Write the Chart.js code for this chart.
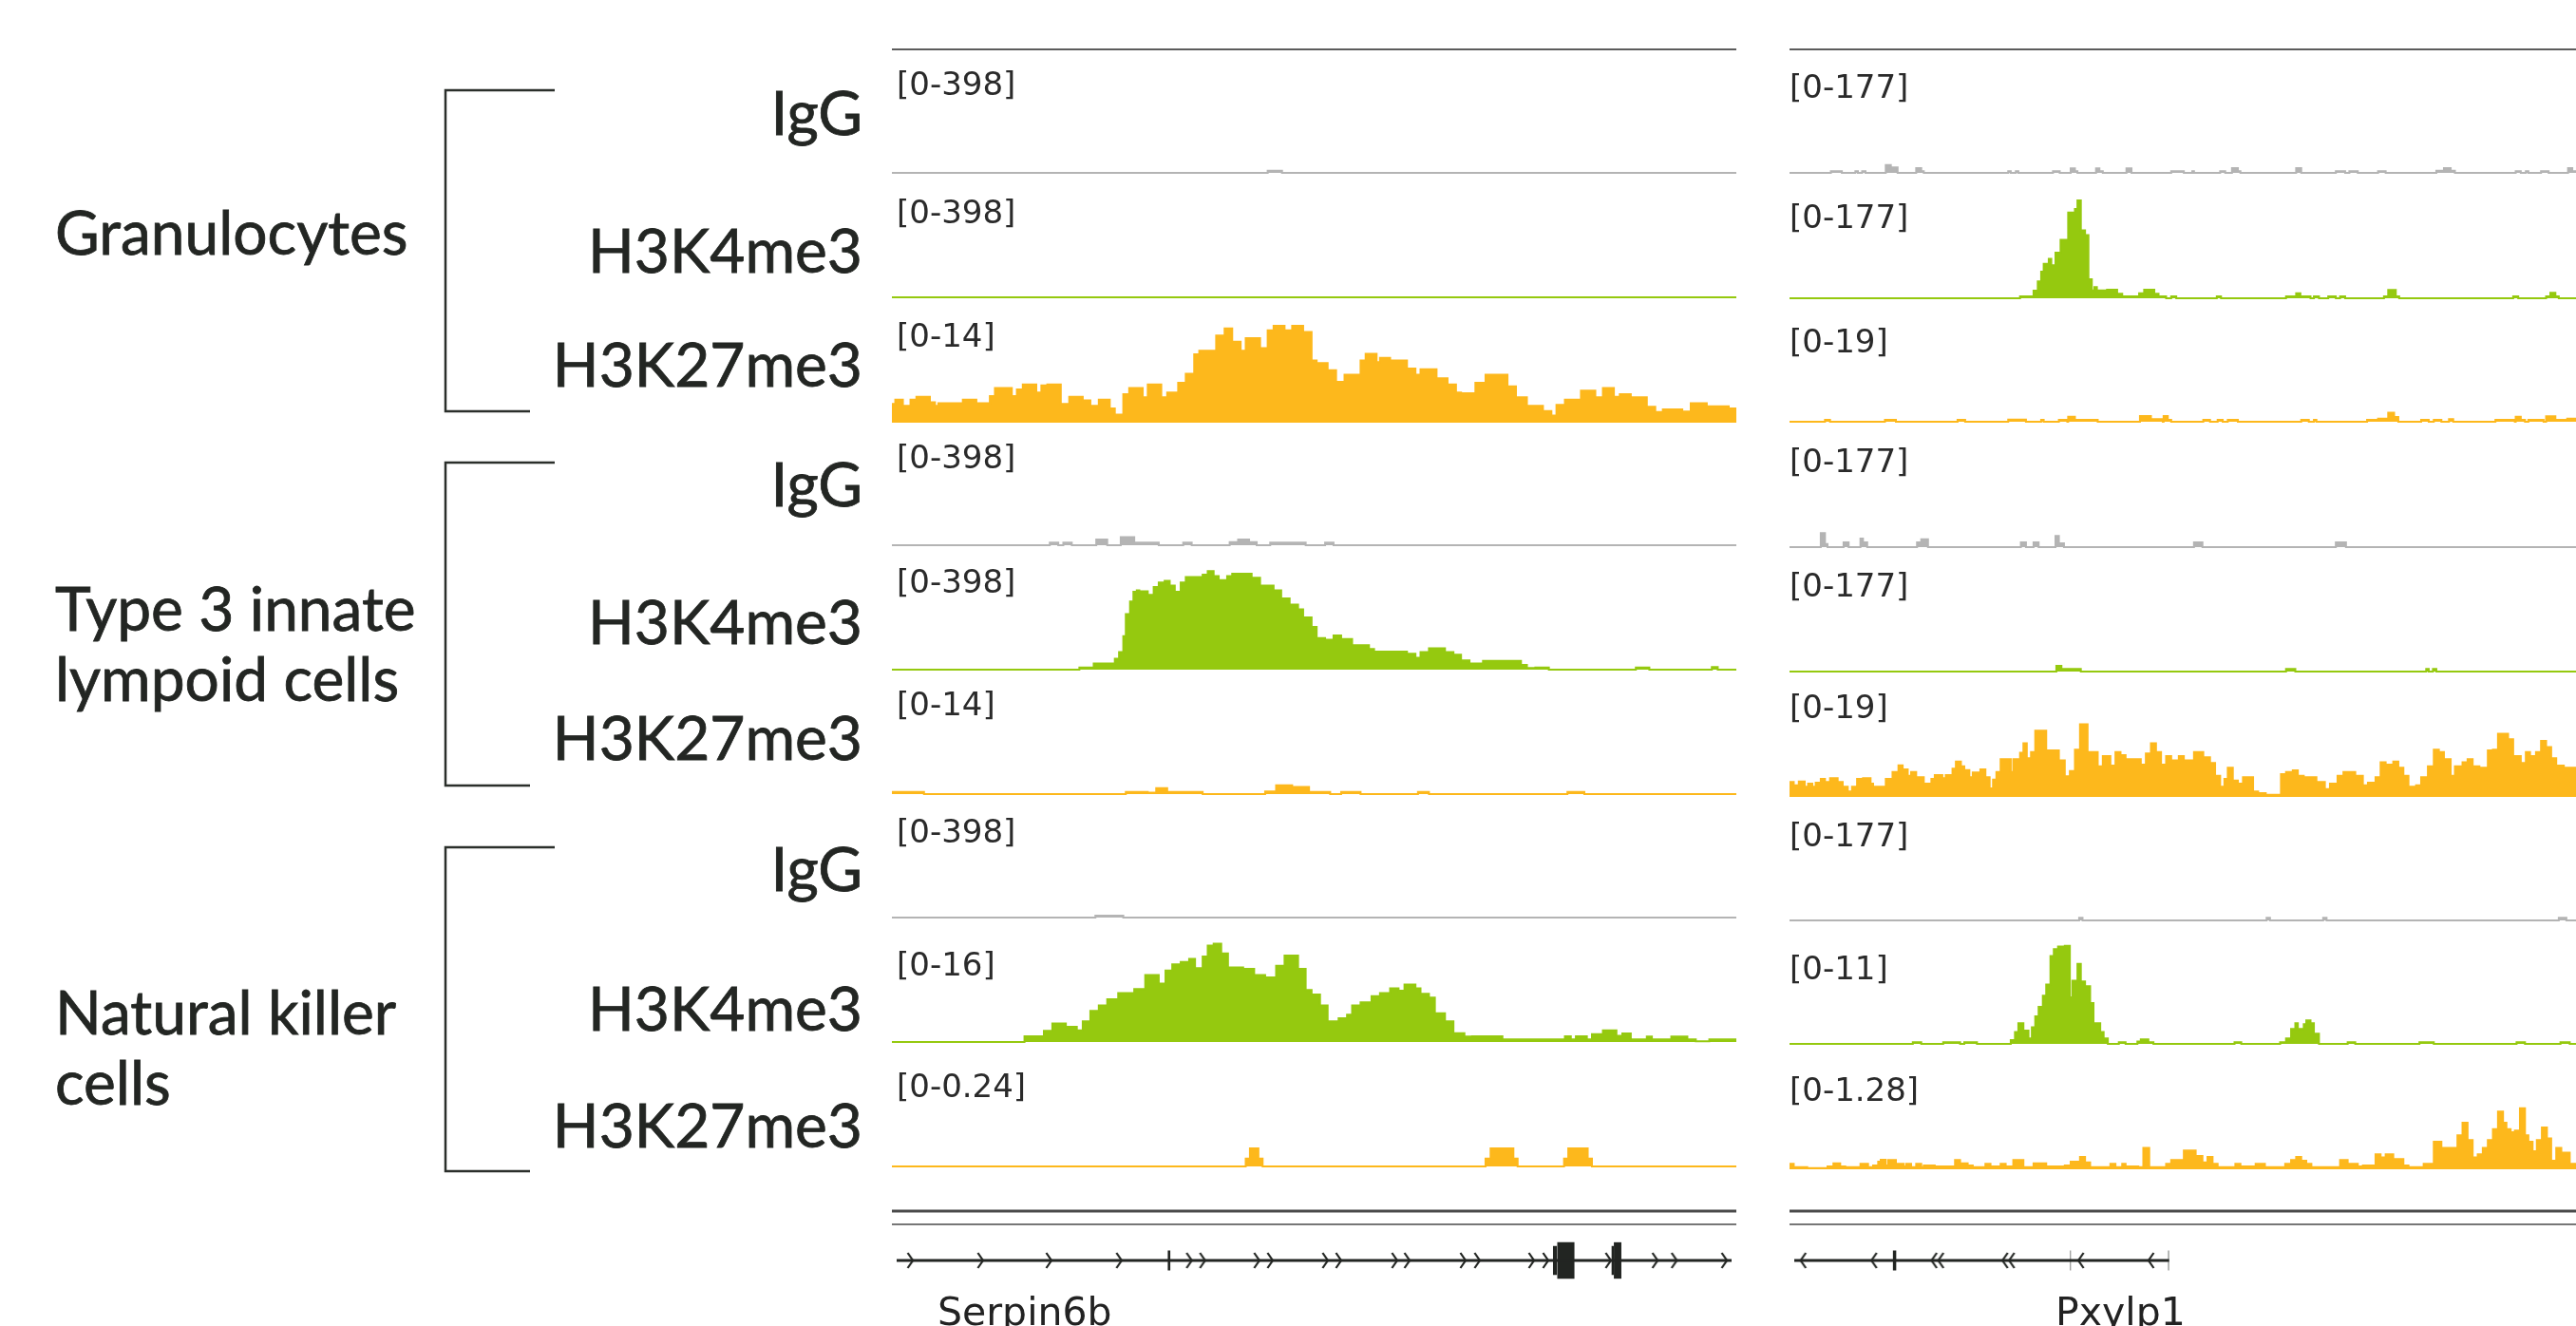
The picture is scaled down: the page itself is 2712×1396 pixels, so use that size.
<!DOCTYPE html>
<html>
<head>
<meta charset="utf-8">
<script src="https://cdn.jsdelivr.net/npm/chart.js@4.4.1/dist/chart.umd.min.js"></script>
<style>
  html, body { margin: 0; padding: 0; background: #fff; }
  body { width: 2712px; height: 1396px; overflow: hidden; position: relative; }
  canvas.trk { position: absolute; }
  #ov { position: absolute; left: 0; top: 0; }
</style>
</head>
<body>
<svg id="ov" width="2712" height="1396" xmlns="http://www.w3.org/2000/svg"></svg>
<script>
// ---- signal tracks: [position, value] steps; each value holds until the next position ----
// Serpin6b locus (window 0-1000)
const iggGranL = [[0,0],[445,7],[462,0],[1000,0]];
const k4GranL = [[0,0],[1000,0]];
const k27GranL = [[0,2.1],[4,2.6],[13,1.9],[22,2.6],[29,2.9],[45,2.3],[51,1.9],[55,2.2],[84,2.6],[100,2.2],[116,3.0],[122,3.9],[142,3.0],[148,3.75],[155,4.3],[171,3.4],[177,4.2],[184,4.3],[200,2.1],[210,2.9],[226,2.5],[235,1.9],[245,2.6],[258,1.6],[264,0.9],[274,3.2],[281,3.9],[297,2.85],[303,4.3],[319,2.85],[326,3.4],[339,4.5],[348,5.5],[358,7.7],[364,8.1],[384,9.8],[394,10.6],[403,9.1],[413,8.1],[419,9.5],[436,8.4],[445,10.4],[452,10.9],[465,10.4],[474,10.9],[487,10.2],[497,7.0],[503,6.7],[516,5.9],[526,4.6],[536,5.4],[555,7.0],[561,7.75],[574,6.8],[578,7.3],[590,7.0],[610,6.1],[620,5.4],[626,6.0],[645,5.0],[658,4.3],[668,3.4],[674,3.3],[691,4.5],[703,5.4],[729,4.1],[739,2.85],[752,1.9],[771,1.3],[781,0.8],[787,2.0],[797,2.6],[816,3.6],[833,2.85],[842,3.9],[855,2.9],[862,3.2],[875,2.85],[894,1.8],[904,1.2],[913,1.5],[936,1.25],[946,2.2],[965,1.85],[991,1.6],[1000,1.6]];
const iggIlcL = [[0,0],[187,8],[197,0],[203,8],[213,0],[242,18],[255,0],[271,26],[287,8],[316,0],[345,8],[355,0],[400,10],[410,18],[423,10],[432,0],[448,8],[490,0],[513,8],[523,0],[1000,0]];
const k4IlcL = [[0,0],[222,7],[239,20],[264,35],[269,56],[274,107],[277,178],[282,218],[286,249],[290,254],[293,251],[303,239],[310,264],[316,279],[323,284],[329,269],[335,249],[342,279],[348,296],[368,304],[374,315],[381,299],[387,286],[397,299],[403,307],[426,294],[436,269],[452,254],[461,228],[471,208],[481,193],[487,167],[497,137],[503,101],[513,96],[523,109],[532,98],[545,78],[565,66],[571,58],[610,51],[620,38],[626,56],[636,68],[655,56],[665,48],[674,30],[684,20],[700,28],[745,15],[752,5],[762,7],[778,0],[881,7],[897,0],[971,8],[978,0],[1000,0]];
const k27IlcL = [[0,0.25],[38,0],[277,0.25],[303,0.15],[313,0.68],[326,0.25],[368,0],[442,0.3],[455,1.0],[474,0.8],[494,0.25],[519,0],[532,0.25],[555,0],[623,0.25],[636,0],[800,0.25],[820,0],[1000,0]];
const iggNkL = [[0,0],[241,6],[274,0],[1000,0]];
const k4NkL = [[0,0],[157,0.73],[180,1.43],[190,2.37],[206,1.96],[219,1.5],[226,2.65],[235,4.0],[245,4.7],[255,5.5],[268,6.3],[287,6.8],[300,8.6],[316,7.5],[324,9.2],[332,10.0],[342,10.3],[352,10.7],[359,9.5],[368,11.0],[374,12.4],[381,12.65],[390,11.4],[398,9.6],[416,9.4],[429,8.6],[442,8.3],[455,9.8],[465,11.1],[481,9.4],[490,6.7],[497,6.1],[507,4.7],[516,2.65],[529,3.06],[539,3.5],[545,4.7],[555,5.1],[568,5.9],[578,6.3],[590,6.9],[600,6.6],[607,7.4],[620,6.9],[626,6.2],[636,5.7],[643,3.7],[655,2.65],[665,1.14],[678,0.7],[687,0.73],[723,0.33],[797,0.73],[804,0.33],[810,0.73],[823,0.33],[829,1.0],[842,1.5],[858,0.8],[865,1.1],[875,0.33],[894,0.7],[900,0.33],[923,0.7],[942,0.33],[952,0.1],[968,0.33],[1000,0.33]];
const k27NkL = [[0,0],[419,0.015],[424,0.035],[434,0.015],[439,0],[703,0.015],[709,0.035],[736,0.015],[741,0],[796,0.015],[801,0.035],[824,0.015],[829,0],[1000,0]];

// Pxylp1 locus (visible window 0-931)
const iggGranR = [[0,0],[49,2.3],[62,0],[78,2.3],[81,0],[86,2.3],[90,0],[114,11],[120,7.7],[128,0],[150,6.8],[156,2.3],[159,0],[259,2.3],[262,0],[268,2.3],[271,0],[312,2.3],[320,0],[333,6.3],[338,2.3],[341,0],[363,6.3],[367,2.3],[371,0],[399,6.3],[405,0],[452,2.3],[467,0],[477,2.3],[479,0],[510,2.3],[516,0],[524,6.8],[531,2.3],[534,0],[600,6.8],[606,0],[647,2.3],[658,0],[663,2.3],[673,0],[697,2.3],[706,0],[766,3.2],[775,6.8],[783,3.2],[788,0],[860,2.3],[866,0],[872,2.3],[875,0],[890,2.3],[899,0],[922,6.8],[927,2.3],[932,2.3]];
const k4GranR = [[0,0],[273,2.7],[289,10.8],[294,24],[298,38],[301,49],[307,56],[310,47],[315,65],[321,83],[330,122],[338,127],[341,139],[345,96.5],[350,90],[354,27],[358,11],[361,16],[364,11],[376,12],[388,6.3],[394,2.7],[414,7.2],[420,12],[432,6.3],[437,2.7],[446,0],[452,2.7],[458,0],[506,2.7],[511,0],[588,2.7],[600,7.2],[605,2.7],[617,0],[621,2.7],[627,0],[638,2.7],[647,0],[652,2.7],[658,0],[704,2.7],[709,11.7],[718,2.7],[722,0],[857,2.7],[863,0],[896,2.7],[901,7.7],[907,2.7],[911,0],[932,0]];
const k27GranR = [[0,0],[42,0.29],[48,0],[113,0.29],[126,0],[199,0.29],[208,0],[259,0.34],[280,0],[298,0.29],[301,0],[319,0.29],[329,0],[330,0.77],[338,0.29],[365,0],[415,0.87],[428,0.39],[442,0],[443,0.87],[448,0.29],[452,0],[490,0.29],[498,0],[507,0.29],[513,0],[519,0.29],[531,0],[606,0.29],[615,0],[621,0.29],[624,0],[684,0.29],[697,0.48],[709,1.36],[716,0.73],[721,0],[748,0.29],[757,0],[763,0.29],[772,0],[781,0.39],[786,0],[836,0.29],[859,0],[860,0.77],[866,0.29],[871,0],[875,0.29],[893,0],[896,0.82],[907,0.29],[921,0.48],[932,0.48]];
const iggIlcR = [[0,0],[37,20],[42,4.5],[45,0],[64,6.8],[70,0],[84,12],[87,6.8],[92,0],[151,6.8],[156,11],[164,0],[274,6.8],[280,0],[289,6.8],[295,0],[315,16],[319,5.4],[325,0],[479,6.8],[489,0],[647,6.8],[659,0],[932,0]];
const k4IlcR = [[0,0],[316,8],[322,3.6],[345,0],[588,3.6],[599,0],[754,3.6],[757,0],[762,3.6],[766,0],[932,0]];
const k27IlcR = [[0,2.27],[5,1.79],[11,2.37],[18,1.55],[22,2.03],[27,1.55],[31,2.18],[37,2.76],[42,2.27],[48,2.86],[57,2.27],[63,1.55],[69,0.82],[74,1.55],[80,2.76],[87,2.86],[96,2.03],[99,1.55],[114,2.76],[122,3.82],[129,4.84],[134,4.21],[140,3.24],[144,3.82],[150,3.0],[159,2.03],[168,2.76],[172,3.34],[181,2.86],[185,3.34],[193,4.31],[197,5.42],[203,4.69],[207,4.11],[213,3.0],[217,3.73],[226,4.21],[232,3.0],[237,1.31],[241,2.66],[245,3.82],[250,5.76],[256,5.76],[262,3.82],[265,5.76],[273,6.73],[277,8.18],[281,5.9],[286,6.87],[291,10.1],[304,7.11],[313,7.11],[319,5.57],[326,3.15],[332,3.97],[338,7.21],[344,11.08],[353,6.87],[365,4.69],[371,6.24],[380,4.79],[386,6.87],[392,6.39],[398,5.76],[416,4.94],[422,6.63],[428,8.18],[434,6.87],[440,4.94],[446,6.24],[452,5.57],[461,6.24],[467,5.57],[479,6.87],[490,6.05],[498,5.18],[504,3.24],[510,1.55],[515,2.76],[519,4.45],[525,2.52],[531,2.03],[537,3.0],[549,0.82],[555,0.58],[564,0.34],[582,3.48],[588,3.82],[596,4.07],[602,3.24],[609,3.0],[624,2.27],[634,1.21],[640,2.03],[649,3.24],[656,3.82],[670,3.24],[679,1.79],[685,2.18],[694,3.0],[700,5.28],[706,4.94],[715,5.42],[721,4.45],[727,3.24],[733,1.55],[742,1.79],[748,3.0],[756,4.69],[763,7.21],[769,6.87],[775,5.76],[783,3.24],[788,4.69],[797,5.28],[803,5.76],[809,4.69],[817,4.45],[827,7.11],[833,7.21],[839,9.63],[851,8.81],[857,6.24],[866,5.18],[872,6.87],[877,6.24],[884,6.87],[890,8.57],[896,7.6],[902,5.9],[908,4.79],[917,4.45],[932,4.45]];
const iggNkR = [[0,0],[343,3.6],[347,0],[565,3.6],[569,0],[632,3.6],[636,0],[911,3.6],[920,0],[932,0]];
const k4NkR = [[0,0],[146,0.14],[156,0],[182,0.14],[202,0],[207,0.14],[222,0],[262,0.34],[267,1.04],[271,1.82],[277,1.18],[283,0.48],[287,1.46],[291,2.44],[295,3.28],[300,4.26],[304,5.24],[309,7.77],[313,8.38],[318,8.61],[326,8.66],[332,4.12],[335,5.58],[341,7.07],[345,5.52],[350,5.1],[356,3.62],[360,1.82],[368,1.04],[372,0.48],[377,0],[390,0.14],[398,0],[412,0.2],[416,0.39],[425,0.14],[431,0],[527,0.14],[535,0],[581,0.14],[588,0.48],[594,1.32],[599,1.82],[602,1.32],[609,1.74],[612,2.07],[617,1.82],[621,0.9],[627,0],[661,0.14],[670,0],[746,0.14],[763,0],[861,0.14],[871,0],[913,0.14],[924,0],[932,0]];
const k27NkR = [[0,0.055],[5,0.023],[21,0.013],[45,0.029],[52,0.062],[60,0.029],[66,0.023],[84,0.055],[93,0.023],[99,0.039],[105,0.078],[108,0.098],[114,0.039],[117,0.095],[126,0.055],[135,0.029],[138,0.055],[144,0.023],[150,0.055],[156,0.023],[159,0.039],[172,0.029],[196,0.095],[202,0.062],[211,0.039],[217,0.023],[232,0.055],[238,0.029],[250,0.055],[256,0.029],[265,0.095],[277,0.023],[289,0.062],[304,0.029],[326,0.039],[333,0.078],[344,0.127],[350,0.072],[356,0.023],[380,0.055],[386,0.023],[394,0.055],[398,0.029],[413,0.023],[419,0.219],[426,0.023],[446,0.055],[452,0.095],[467,0.193],[481,0.137],[489,0.072],[495,0.127],[501,0.055],[507,0.023],[528,0.055],[534,0.029],[552,0.055],[563,0.023],[587,0.055],[594,0.095],[600,0.127],[606,0.088],[612,0.055],[618,0.023],[652,0.095],[661,0.055],[673,0.029],[679,0.039],[694,0.153],[700,0.121],[706,0.153],[715,0.104],[727,0.039],[733,0.023],[751,0.055],[763,0.284],[772,0.219],[791,0.349],[797,0.48],[803,0.30],[809,0.121],[815,0.153],[821,0.219],[827,0.30],[833,0.414],[839,0.594],[845,0.48],[849,0.414],[854,0.382],[859,0.398],[865,0.627],[871,0.349],[875,0.284],[880,0.186],[885,0.30],[891,0.431],[897,0.317],[902,0.088],[908,0.219],[914,0.17],[924,0.055],[932,0.055]];

// data ranges shown as [0-max]
const rangesL = [398, 398, 14, 398, 398, 14, 398, 16, 0.24];
const rangesR = [177, 177, 19, 177, 177, 19, 177, 11, 1.28];

// cell types and marks
const cellGroups = [['Granulocytes'], ['Type 3 innate', 'lympoid cells'], ['Natural killer', 'cells']];
const marks = ['IgG', 'H3K4me3', 'H3K27me3'];

// gene models: exons [start, end, relative height], strand arrows at positions
const geneSerpin = { name: 'Serpin6b', strand: 1, start: 0, end: 1000,
  exons: [[324.5, 328, 0.55], [786, 791, 0.8], [791, 812, 1], [856, 859, 0.8], [859, 868, 1]],
  arrows: [16, 100, 182, 266, 350, 366, 431, 447, 513, 529, 596, 611, 678, 695, 760, 777, 852, 908, 931, 991] };
const genePxylp = { name: 'Pxylp1', strand: -1, start: 0, end: 449.3,
  exons: [[118, 122.5, 0.55], [330.6, 331.8, 0.55], [448, 449.3, 0.55]],
  arrows: [11, 96, 168, 176, 253, 261, 344, 428] };

// ---- layout ----
const COLORS = { IgG: '#b4b4b4', H3K4me3: '#95c90f', H3K27me3: '#fdb81c' };
const INK = '#222522';
const PANEL_L = { x: 939, width: 889, xMax: 1000, baselines: [182, 313, 445, 574, 705, 836, 966, 1097, 1228],
  labelX: 944, labelBase: [100, 235, 365, 493, 624, 753, 887, 1027, 1155] };
const PANEL_R = { x: 1884, width: 828, xMax: 931.4, baselines: [182, 314, 444, 576, 707, 839, 969, 1099, 1231],
  labelX: 1884, labelBase: [103, 240, 371, 497, 628, 756, 891, 1031, 1159] };
const TRACK_H = 131;

const tracksL = [iggGranL, k4GranL, k27GranL, iggIlcL, k4IlcL, k27IlcL, iggNkL, k4NkL, k27NkL];
const tracksR = [iggGranR, k4GranR, k27GranR, iggIlcR, k4IlcR, k27IlcR, iggNkR, k4NkR, k27NkR];

const ov = document.getElementById('ov');
const SVGNS = 'http://www.w3.org/2000/svg';

function svgEl(tag, attrs, text) {
  const el = document.createElementNS(SVGNS, tag);
  for (const k in attrs) el.setAttribute(k, attrs[k]);
  if (text !== undefined) el.textContent = text;
  ov.appendChild(el);
  return el;
}

function makeCanvas(left, top, w, h) {
  const cv = document.createElement('canvas');
  cv.className = 'trk';
  cv.width = w; cv.height = h;
  cv.style.left = left + 'px'; cv.style.top = top + 'px';
  cv.style.width = w + 'px'; cv.style.height = h + 'px';
  document.body.insertBefore(cv, ov);
  return cv;
}

const baseOptions = (xMax) => ({
  responsive: false, animation: false, devicePixelRatio: 1, events: [],
  plugins: { legend: { display: false }, tooltip: { enabled: false } },
  scales: {
    x: { type: 'linear', display: false, min: 0, max: xMax },
    y: { display: false }
  }
});

// each point's value holds from its position to the next point
function toSteps(pairs) {
  const pts = [];
  pairs.forEach(([x, y], i) => {
    if (i > 0) pts.push({ x, y: pairs[i - 1][1] });
    pts.push({ x, y });
  });
  return pts;
}

function trackChart(panel, i, pairs, color, range) {
  const cv = makeCanvas(panel.x, panel.baselines[i] - TRACK_H, panel.width, TRACK_H + 3);
  const opts = baseOptions(panel.xMax);
  opts.layout = { padding: { bottom: 3 } };
  opts.scales.y = { display: false, min: 0, max: range };
  new Chart(cv, {
    type: 'line',
    data: { datasets: [{
      data: toSteps(pairs), fill: 'origin',
      backgroundColor: color, borderColor: color, borderWidth: 2,
      pointRadius: 0, clip: { left: 0, right: 0, top: 6, bottom: 3 }
    }] },
    options: opts
  });
}

function chevron(dir) {
  const c = document.createElement('canvas');
  c.width = 10; c.height = 20;
  const g = c.getContext('2d');
  g.strokeStyle = INK; g.lineWidth = 2.2;
  g.beginPath();
  if (dir > 0) { g.moveTo(2.5, 2); g.lineTo(8, 10); g.lineTo(2.5, 18); }
  else { g.moveTo(7.5, 2); g.lineTo(2, 10); g.lineTo(7.5, 18); }
  g.stroke();
  return c;
}

function geneChart(panel, gene) {
  const cv = makeCanvas(panel.x, 1327 - 28, panel.width, 56);
  const opts = baseOptions(panel.xMax);
  opts.scales.y = { display: false, min: -1.2, max: 1.2 };
  const datasets = [
    { data: [{ x: gene.start, y: 0 }, { x: gene.end, y: 0 }], borderColor: INK, borderWidth: 3, pointRadius: 0 }
  ];
  gene.exons.forEach(([a, b, h]) => datasets.push({
    data: [{ x: a, y: h }, { x: b, y: h }], fill: { value: -h },
    backgroundColor: INK, borderColor: 'transparent', borderWidth: 0, pointRadius: 0
  }));
  datasets.push({
    data: gene.arrows.map(x => ({ x, y: 0 })), showLine: false,
    pointStyle: chevron(gene.strand), pointRadius: 5, borderWidth: 0
  });
  new Chart(cv, { type: 'line', data: { datasets }, options: opts });
}

[[PANEL_L, tracksL, rangesL], [PANEL_R, tracksR, rangesR]].forEach(([panel, tracks, ranges]) => {
  tracks.forEach((pairs, i) => {
    const mark = marks[i % 3];
    trackChart(panel, i, pairs, COLORS[mark], ranges[i]);
    svgEl('text', { x: panel.labelX, y: panel.labelBase[i], 'font-family': 'DejaVu Sans', 'font-size': 34, fill: '#2a2a2a' }, '[0-' + ranges[i] + ']');
  });
  const right = Math.min(panel.x + panel.width, 2712);
  svgEl('line', { x1: panel.x, x2: right, y1: 52, y2: 52, stroke: '#5c5c5c', 'stroke-width': 2.2 });
  svgEl('line', { x1: panel.x, x2: right, y1: 1275, y2: 1275, stroke: '#4a4a4a', 'stroke-width': 3 });
  svgEl('line', { x1: panel.x, x2: right, y1: 1289, y2: 1289, stroke: '#777', 'stroke-width': 2 });
});

geneChart(PANEL_L, geneSerpin);
geneChart(PANEL_R, genePxylp);
svgEl('text', { x: 987, y: 1395, 'font-family': 'DejaVu Sans', 'font-size': 41, fill: '#222' }, geneSerpin.name);
svgEl('text', { x: 2164, y: 1395, 'font-family': 'DejaVu Sans', 'font-size': 41, fill: '#222' }, genePxylp.name);

// row labels, group labels and brackets
const markBase = [[142, 287, 407], [533, 678, 800], [938, 1085, 1208]];
const groupBase = [[268], [664, 738], [1089, 1163]];
const brackets = [[95, 433], [487, 827], [892, 1233]];
const LABEL_FONT = 'Lato, "Open Sans", sans-serif';
const labelStyle = { 'font-family': LABEL_FONT, 'font-size': 64, fill: '#232623', stroke: '#232623', 'stroke-width': 0.8 };
cellGroups.forEach((lines, g) => {
  marks.forEach((m, k) => svgEl('text', Object.assign({ x: 908, y: markBase[g][k], 'text-anchor': 'end' }, labelStyle), m));
  lines.forEach((t, k) => svgEl('text', Object.assign({ x: 58, y: groupBase[g][k] }, labelStyle), t));
  const [top, bot] = brackets[g];
  svgEl('path', { d: `M584 ${top} H469 V${bot} H558`, fill: 'none', stroke: '#2b2f2b', 'stroke-width': 2.5 });
});
</script>
</body>
</html>
